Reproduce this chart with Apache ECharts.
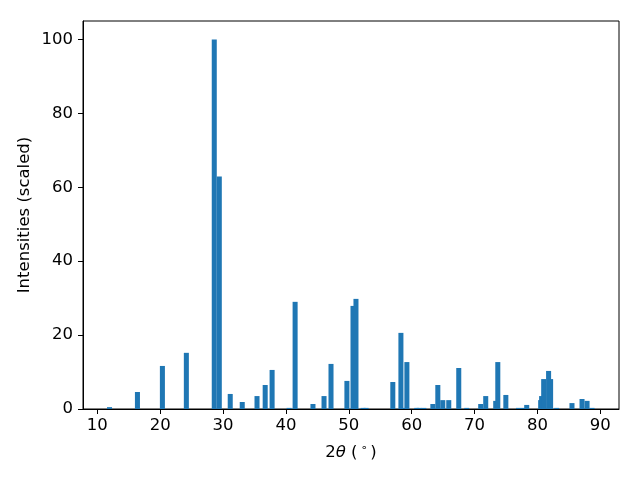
<!DOCTYPE html>
<html><head><meta charset="utf-8">
<script src="https://cdn.jsdelivr.net/npm/echarts@6/dist/echarts.min.js"></script>
<style>html,body{margin:0;padding:0;background:#fff}#c{width:640px;height:480px}</style>
</head><body><div id="c"></div>
<script>
const positions = [11.94, 16.38, 20.35, 24.16, 28.6, 29.4, 31.14, 33.05, 35.4, 36.7, 37.8, 40.5, 41.46, 44.3, 46.06, 47.17, 49.7, 50.67, 51.14, 52.27, 52.75, 57.0, 58.29, 58.8, 59.24, 60.8, 61.2, 61.94, 63.37, 64.16, 64.95, 65.9, 67.49, 68.76, 70.98, 71.78, 73.37, 73.7, 74.98, 77.0, 77.8, 78.3, 80.52, 80.67, 81.0, 81.78, 82.1, 83.07, 85.5, 87.1, 87.9, 88.7];
const intensities = [0.5, 4.6, 11.65, 15.2, 100, 62.9, 4.07, 1.9, 3.5, 6.5, 10.57, 0.3, 29.0, 1.35, 3.5, 12.2, 7.6, 27.9, 29.8, 0.3, 0.3, 7.3, 20.6, 0.3, 12.7, 0.3, 0.3, 0.3, 1.35, 6.5, 2.4, 2.4, 11.1, 0.3, 1.35, 3.5, 2.2, 12.7, 3.8, 0.3, 0.3, 1.1, 2.4, 3.5, 8.1, 10.3, 8.1, 0.3, 1.6, 2.7, 2.2, 0.3];
const xTicks = [10, 20, 30, 40, 50, 60, 70, 80, 90];
const yTicks = [0, 20, 40, 60, 80, 100];
const barWidth = 0.8;

const data = positions.map((p, i) => [p, intensities[i]]);
const chart = echarts.init(document.getElementById('c'), null, {renderer: 'canvas'});
const font = 'DejaVu Sans';
const fs = 16.5;
chart.setOption({
  animation: false,
  grid: {left: 83, right: 21, top: 21, bottom: 71, show: true, borderColor: '#000', borderWidth: 1, backgroundColor: 'transparent'},
  xAxis: {
    type: 'value', min: 7.72, max: 92.98,
    axisLine: {show: true, onZero: false, lineStyle: {color: '#000', width: 1}},
    axisTick: {show: true, length: 5, customValues: xTicks, lineStyle: {color: '#000'}},
    axisLabel: {customValues: xTicks, color: '#000', fontSize: fs, fontFamily: font, margin: 8},
    splitLine: {show: false},
    name: '{n|2}{i|θ}{n| (}{s|∘}{n|)}',
    nameLocation: 'middle', nameGap: 34,
    nameTextStyle: {color: '#000', rich: {
      n: {fontSize: fs, fontFamily: font, color: '#000'},
      i: {fontSize: fs, fontFamily: font, fontStyle: 'italic', color: '#000'},
      s: {fontSize: 11, fontFamily: font, color: '#000', verticalAlign: 'top', padding: [0, 3, 8, 3]}
    }}
  },
  yAxis: {
    type: 'value', min: 0, max: 105,
    axisLine: {show: true, lineStyle: {color: '#000', width: 1}},
    axisTick: {show: true, length: 5, customValues: yTicks, lineStyle: {color: '#000'}},
    axisLabel: {customValues: yTicks, color: '#000', fontSize: fs, fontFamily: font, margin: 10},
    splitLine: {show: false},
    name: 'Intensities (scaled)', nameLocation: 'middle', nameGap: 50, nameRotate: 90,
    nameMoveOverlap: false,
    nameTextStyle: {color: '#000', fontSize: fs, fontFamily: font}
  },
  series: [{
    type: 'custom',
    data: data,
    encode: {x: 0, y: 1},
    renderItem: function (params, api) {
      const x = api.value(0), y = api.value(1);
      const p0 = api.coord([x - barWidth / 2, y]);
      const p1 = api.coord([x + barWidth / 2, 0]);
      return {type: 'rect', shape: {x: p0[0], y: p0[1], width: p1[0] - p0[0], height: p1[1] - p0[1]},
        style: {fill: '#1f77b4'}};
    }
  }]
});
</script></body></html>
